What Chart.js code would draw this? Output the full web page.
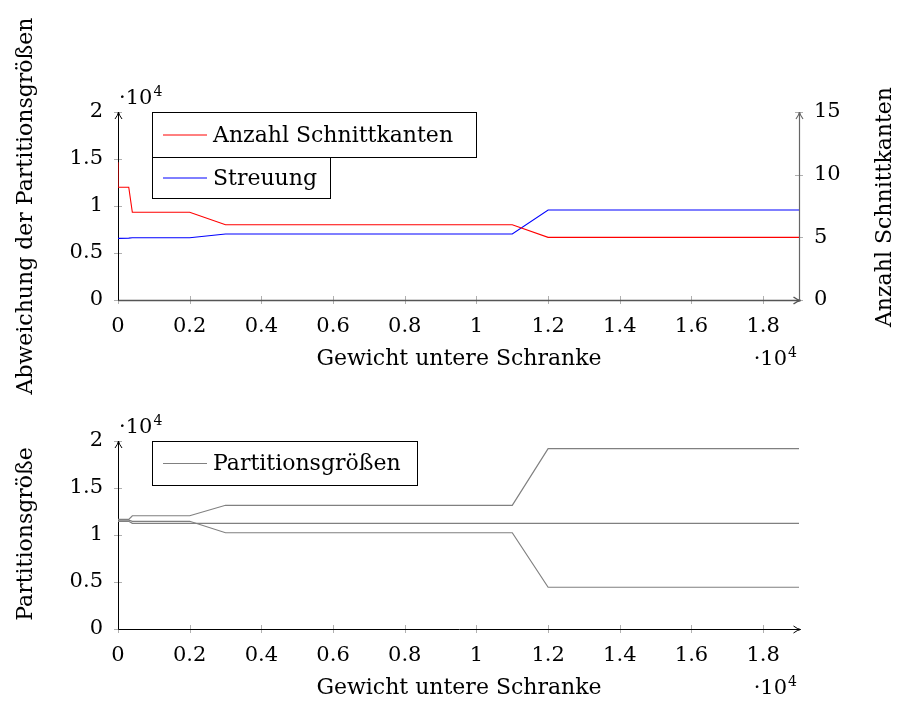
<!DOCTYPE html>
<html>
<head>
<meta charset="utf-8">
<script src="https://cdn.jsdelivr.net/npm/chart.js@4.4.0/dist/chart.umd.min.js"></script>
<style>
  body { margin: 0; background: #fff; }
  #wrap { position: relative; width: 899px; height: 702px; }
  canvas { position: absolute; left: 0; }
</style>
</head>
<body>
<div id="wrap">
  <canvas id="topChart" width="899" height="400" style="top:0"></canvas>
  <canvas id="bottomChart" width="899" height="302" style="top:400px"></canvas>
</div>
<script>
// ---- data ----
const xTicks = [0, 2000, 4000, 6000, 8000, 10000, 12000, 14000, 16000, 18000];
const leftTicks = [0, 5000, 10000, 15000, 20000];
const rightTicks = [0, 5, 10, 15];

const schnittX = [0, 0, 300, 400, 2000, 3000, 11000, 12000, 19000];
const schnittY = [11, 9, 9, 7, 7, 6, 6, 5, 5];

const streuungX = [0, 300, 400, 2000, 3000, 11000, 12000, 19000];
const streuungY = [6560, 6580, 6620, 6630, 7020, 7020, 9570, 9570];

const partX = [0, 300, 400, 2000, 3000, 11000, 12000, 19000];
const partA = [11670, 11670, 12050, 12050, 13160, 13160, 19180, 19180];
const partB = [11580, 11580, 11460, 11460, 10240, 10240, 4440, 4440];
const partC = [11460, 11460, 11240, 11240, 11240, 11240, 11240, 11240];

const FONT = '"DejaVu Serif", serif';
const FS = 22;      // titles, legend
const TFS = 21;     // tick labels

function pts(xs, ys) {
    return xs.map((x, i) => ({ x: x, y: ys[i] }));
}

function fmt(v) {
    return String(Number(v.toFixed(2)));
}

function arrowHead(ctx, x, y, dir) {
    // small latex-like arrow tip
    ctx.beginPath();
    if (dir === 'up') {
        ctx.moveTo(x - 3.5, y + 7); ctx.quadraticCurveTo(x - 0.5, y + 3, x, y);
        ctx.moveTo(x + 3.5, y + 7); ctx.quadraticCurveTo(x + 0.5, y + 3, x, y);
    } else {
        ctx.moveTo(x - 7, y - 3.5); ctx.quadraticCurveTo(x - 3, y - 0.5, x, y);
        ctx.moveTo(x - 7, y + 3.5); ctx.quadraticCurveTo(x - 3, y + 0.5, x, y);
    }
    ctx.stroke();
}

// "·10^4"; x is left edge, or right edge when alignRight
function times10(ctx, x, baseline, alignRight) {
    const t = '\u00b710';
    ctx.textAlign = 'left';
    ctx.textBaseline = 'alphabetic';
    ctx.fillStyle = '#000';
    ctx.font = TFS + 'px ' + FONT;
    const w = ctx.measureText(t).width;
    ctx.font = '14px ' + FONT;
    const w4 = ctx.measureText('4').width;
    const x0 = alignRight ? x - w - 1 - w4 : x;
    ctx.font = TFS + 'px ' + FONT;
    ctx.fillText(t, x0, baseline);
    ctx.font = '14px ' + FONT;
    ctx.fillText('4', x0 + w + 1, baseline - 8);
}

function legendBox(ctx, x0, y0, x1, y1, color, text) {
    ctx.strokeStyle = '#000';
    ctx.lineWidth = 1;
    ctx.strokeRect(x0 + 0.5, y0 + 0.5, x1 - x0, y1 - y0);
    const cy = (y0 + y1) / 2 + 0.5;
    ctx.strokeStyle = color;
    ctx.beginPath();
    ctx.moveTo(x0 + 11, cy); ctx.lineTo(x0 + 55, cy);
    ctx.stroke();
    ctx.fillStyle = '#000';
    ctx.font = FS + 'px ' + FONT;
    ctx.textAlign = 'left';
    ctx.textBaseline = 'middle';
    ctx.fillText(text, x0 + 61, cy + 1);
}

function vertText(ctx, text, x, y) {
    ctx.save();
    ctx.translate(x, y);
    ctx.rotate(-Math.PI / 2);
    ctx.font = FS + 'px ' + FONT;
    ctx.fillStyle = '#000';
    ctx.textAlign = 'center';
    ctx.textBaseline = 'middle';
    ctx.fillText(text, 0, 0);
    ctx.restore();
}

// axes and tick marks under the lines, texts and legends on top
function decorPlugin(cfg) {
    return {
        id: 'decor',
        beforeDatasetsDraw(chart) {
            const ctx = chart.ctx;
            const a = chart.chartArea;
            const sx = chart.scales.x, sy = chart.scales.y;
            ctx.save();
            ctx.lineWidth = 1;
            ctx.strokeStyle = '#b0b0b0';
            ctx.beginPath();
            xTicks.forEach(v => {
                const p = Math.round(sx.getPixelForValue(v)) + 0.5;
                ctx.moveTo(p, a.bottom - 4); ctx.lineTo(p, a.bottom + 4);
            });
            leftTicks.forEach(v => {
                const p = Math.round(sy.getPixelForValue(v)) + 0.5;
                ctx.moveTo(a.left - 4, p); ctx.lineTo(a.left + 4, p);
            });
            if (cfg.right) {
                const sr = chart.scales.y1;
                rightTicks.forEach(v => {
                    const p = Math.round(sr.getPixelForValue(v)) + 0.5;
                    ctx.moveTo(a.right - 4, p); ctx.lineTo(a.right + 4, p);
                });
            }
            ctx.stroke();

            const L = Math.round(a.left) + 0.5, B = Math.round(a.bottom) + 0.5;
            const R = Math.round(a.right) + 0.5, T = Math.round(a.top);
            // bottom axis
            ctx.strokeStyle = cfg.right ? '#555' : '#000';
            ctx.lineWidth = cfg.right ? 1.4 : 1;
            ctx.beginPath(); ctx.moveTo(L, B); ctx.lineTo(R + 1, B); ctx.stroke();
            arrowHead(ctx, R + 1, B, 'right');
            // right axis
            if (cfg.right) {
                ctx.strokeStyle = '#666';
                ctx.lineWidth = 1.2;
                ctx.beginPath(); ctx.moveTo(R, B); ctx.lineTo(R, T); ctx.stroke();
                arrowHead(ctx, R, T, 'up');
            }
            // left axis
            ctx.strokeStyle = '#000';
            ctx.lineWidth = 1;
            ctx.beginPath(); ctx.moveTo(L, B); ctx.lineTo(L, T); ctx.stroke();
            arrowHead(ctx, L, T, 'up');
            ctx.restore();
        },
        afterDraw(chart) {
            const ctx = chart.ctx;
            const a = chart.chartArea;
            ctx.save();
            // exponent labels
            times10(ctx, a.left + 1, a.top - 8, false);
            times10(ctx, 797, a.bottom + 65, true);

            // x title
            ctx.font = FS + 'px ' + FONT;
            ctx.fillStyle = '#000';
            ctx.textAlign = 'center';
            ctx.textBaseline = 'alphabetic';
            ctx.fillText('Gewicht untere Schranke', 459, a.bottom + 65);

            vertText(ctx, cfg.leftTitle, 26, cfg.leftTitleY);
            if (cfg.right) vertText(ctx, cfg.rightTitle, 885, cfg.rightTitleY);

            cfg.legends.forEach(l => {
                const ds = chart.data.datasets[l.ds];
                legendBox(ctx, l.x0, l.y0, l.x1, l.y1, ds.borderColor, ds.label);
            });
            ctx.restore();
        }
    };
}

const tickFont = { family: FONT, size: TFS };

function xScale(h) {
    return {
        type: 'linear', min: 0, max: 19000,
        afterBuildTicks: s => { s.ticks = xTicks.map(v => ({ value: v })); },
        afterFit: s => { s.height = h; },
        ticks: { callback: v => fmt(v / 10000), font: tickFont, color: '#000', padding: 14, maxRotation: 0, autoSkip: false },
        grid: { display: false, drawTicks: false },
        border: { display: false }
    };
}

function leftScale() {
    return {
        type: 'linear', position: 'left', min: 0, max: 20000,
        afterBuildTicks: s => { s.ticks = leftTicks.map(v => ({ value: v })); },
        afterFit: s => { s.width = 118; },
        ticks: { callback: v => fmt(v / 10000), font: tickFont, color: '#000', padding: 15 },
        grid: { display: false, drawTicks: false },
        border: { display: false }
    };
}

const commonOpts = {
    responsive: false,
    animation: false,
    devicePixelRatio: 1,
    plugins: { legend: { display: false }, tooltip: { enabled: false } },
    elements: { point: { radius: 0 }, line: { tension: 0, borderWidth: 1 } }
};

new Chart(document.getElementById('topChart'), {
    type: 'line',
    data: {
        datasets: [
            { label: 'Anzahl Schnittkanten', data: pts(schnittX, schnittY), borderColor: '#ff0000', yAxisID: 'y1', borderWidth: 1.1 },
            { label: 'Streuung', data: pts(streuungX, streuungY), borderColor: '#0000ff', yAxisID: 'y', borderWidth: 1.1 }
        ]
    },
    options: Object.assign({}, commonOpts, {
        layout: { padding: { top: 112, left: 0, right: 0, bottom: 0 } },
        scales: {
            x: xScale(100),
            y: leftScale(),
            y1: {
                type: 'linear', position: 'right', min: 0, max: 15,
                afterBuildTicks: s => { s.ticks = rightTicks.map(v => ({ value: v })); },
                afterFit: s => { s.width = 100; },
                ticks: { font: tickFont, color: '#000', padding: 15 },
                grid: { display: false, drawTicks: false },
                border: { display: false }
            }
        }
    }),
    plugins: [decorPlugin({
        right: true,
        leftTitle: 'Abweichung der Partitionsgrößen', leftTitleY: 206,
        rightTitle: 'Anzahl Schnittkanten', rightTitleY: 207,
        legends: [
            { ds: 0, x0: 152, y0: 112, x1: 476, y1: 157 },
            { ds: 1, x0: 152, y0: 157, x1: 330, y1: 198 }
        ]
    })]
});

new Chart(document.getElementById('bottomChart'), {
    type: 'line',
    data: {
        datasets: [
            { label: 'Partitionsgrößen', data: pts(partX, partA), borderColor: '#808080', borderWidth: 1.2 },
            { label: 'Partitionsgrößen B', data: pts(partX, partB), borderColor: '#808080', borderWidth: 1.2 },
            { label: 'Partitionsgrößen C', data: pts(partX, partC), borderColor: '#808080', borderWidth: 1.2 }
        ]
    },
    options: Object.assign({}, commonOpts, {
        layout: { padding: { top: 41, left: 0, right: 100, bottom: 0 } },
        scales: {
            x: xScale(73),
            y: leftScale()
        }
    }),
    plugins: [decorPlugin({
        right: false,
        leftTitle: 'Partitionsgröße', leftTitleY: 134,
        legends: [
            { ds: 0, x0: 152, y0: 41, x1: 417, y1: 85 }
        ]
    })]
});
</script>
</body>
</html>
